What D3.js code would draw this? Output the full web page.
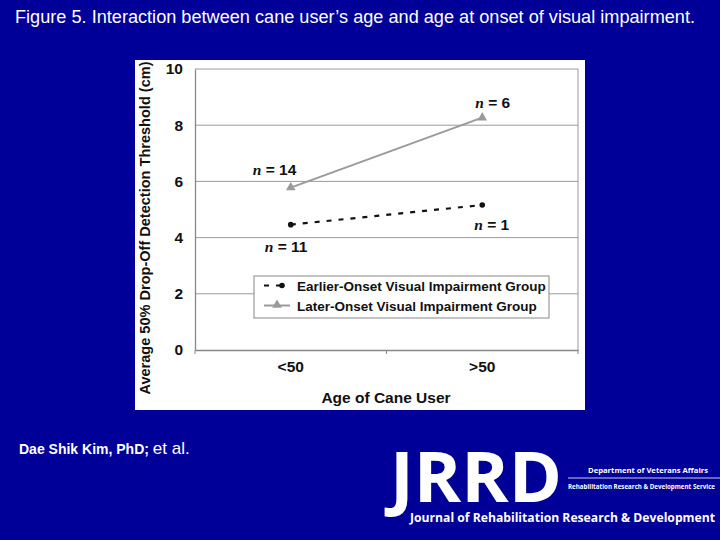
<!DOCTYPE html>
<html><head><meta charset="utf-8">
<script src="https://cdn.jsdelivr.net/npm/d3@7"></script>
<style>body{margin:0;background:#000099;} svg{display:block;}</style>
</head><body>
<script>
const categories = ["<50", ">50"];
const earlierOnset = [4.46, 5.16];
const laterOnset = [5.78, 8.27];
const earlierN = ["11", "1"];
const laterN = ["14", "6"];
const yTicks = [0, 2, 4, 6, 8, 10];
const seriesNames = ["Earlier-Onset Visual Impairment Group", "Later-Onset Visual Impairment Group"];

const W = 720, H = 540;
const svg = d3.select("body").append("svg").attr("width", W).attr("height", H);
svg.append("rect").attr("width", W).attr("height", H).attr("fill", "#000099");

svg.append("text").attr("x", 15).attr("y", 23)
  .attr("fill", "#fff").attr("font-family", "Liberation Sans, Arial, sans-serif")
  .attr("font-size", 17.5).attr("textLength", 680).attr("lengthAdjust", "spacingAndGlyphs")
  .text("Figure 5. Interaction between cane user\u2019s age and age at onset of visual impairment.");

// white panel
svg.append("rect").attr("x", 135).attr("y", 60).attr("width", 450).attr("height", 350).attr("fill", "#fff");

const x = d3.scaleBand().domain(categories).range([195, 578]);
const y = d3.scaleLinear().domain([0, 10]).range([350, 69]);
const font = "Liberation Sans, Arial, sans-serif";

// gridlines
svg.append("g").selectAll("line").data(yTicks.filter(d => d > 0)).join("line")
  .attr("x1", 195).attr("x2", 578).attr("y1", d => y(d)).attr("y2", d => y(d))
  .attr("stroke", "#9a9a9a").attr("stroke-width", 1);
// right border
svg.append("line").attr("x1", 578).attr("x2", 578).attr("y1", y(10)).attr("y2", y(0)).attr("stroke", "#9a9a9a");

// y axis
const yAxis = svg.append("g").attr("transform", "translate(195,0)")
  .call(d3.axisLeft(y).tickValues(yTicks).tickSize(0).tickPadding(12));
yAxis.select(".domain").attr("stroke", "#888").attr("stroke-width", 1.3);
yAxis.selectAll("text").attr("font-family", font).attr("font-size", 15.5).attr("font-weight", "bold").attr("fill", "#111");

// x axis
const xAxis = svg.append("g").attr("transform", "translate(0,350)")
  .call(d3.axisBottom(x).tickSize(0).tickPadding(11));
xAxis.select(".domain").attr("stroke", "#888").attr("stroke-width", 1.3);
xAxis.selectAll("text").attr("font-family", font).attr("font-size", 15.5).attr("font-weight", "bold").attr("fill", "#111");
// small tick marks at band edges
svg.append("g").selectAll("line").data([195, x(categories[1]), 578]).join("line")
  .attr("x1", d => d).attr("x2", d => d).attr("y1", 350).attr("y2", 354).attr("stroke", "#888");

// axis titles
svg.append("text").attr("x", 386).attr("y", 403).attr("text-anchor", "middle")
  .attr("font-family", font).attr("font-size", 15.5).attr("font-weight", "bold").attr("fill", "#111")
  .text("Age of Cane User");
svg.append("text").attr("transform", "translate(150,228) rotate(-90)").attr("text-anchor", "middle")
  .attr("font-family", font).attr("font-size", 15).attr("font-weight", "bold").attr("fill", "#111")
  .attr("textLength", 333).attr("lengthAdjust", "spacingAndGlyphs")
  .text("Average 50% Drop-Off Detection Threshold (cm)");

const cx = d => x(d) + x.bandwidth() / 2;
const lineGen = d3.line().x(d => cx(d[0])).y(d => y(d[1]));

// later onset
const laterData = categories.map((c, i) => [c, laterOnset[i]]);
svg.append("path").datum(laterData).attr("d", lineGen).attr("fill", "none")
  .attr("stroke", "#9a9a9a").attr("stroke-width", 2);
const tri = d3.symbol().type(d3.symbolTriangle).size(40);
svg.append("g").selectAll("path").data(laterData).join("path")
  .attr("d", tri).attr("transform", d => `translate(${cx(d[0])},${y(d[1])})`).attr("fill", "#9a9a9a");

// earlier onset
const earlierData = categories.map((c, i) => [c, earlierOnset[i]]);
svg.append("path").datum(earlierData).attr("d", lineGen).attr("fill", "none")
  .attr("stroke", "#111").attr("stroke-width", 2.2).attr("stroke-dasharray", "5,7");
svg.append("g").selectAll("circle").data(earlierData).join("circle")
  .attr("cx", d => cx(d[0])).attr("cy", d => y(d[1])).attr("r", 2.8).attr("fill", "#111");

// n labels
function nLabel(px, py, val) {
  const t = svg.append("text").attr("x", px).attr("y", py).attr("font-family", font)
    .attr("font-size", 15.5).attr("font-weight", "bold").attr("fill", "#111");
  t.append("tspan").attr("font-family", "Liberation Serif, Times New Roman, serif").attr("font-style", "italic").text("n");
  t.append("tspan").text(" = " + val);
}
nLabel(cx(categories[0]) - 38, y(laterOnset[0]) - 13, laterN[0]);
nLabel(cx(categories[1]) - 7, y(laterOnset[1]) - 10, laterN[1]);
nLabel(cx(categories[0]) - 26, y(earlierOnset[0]) + 27, earlierN[0]);
nLabel(cx(categories[1]) - 8, y(earlierOnset[1]) + 25, earlierN[1]);

// legend
const lg = svg.append("g");
lg.append("rect").attr("x", 254).attr("y", 276).attr("width", 295).attr("height", 42)
  .attr("fill", "#fff").attr("stroke", "#888").attr("stroke-width", 1);
lg.append("line").attr("x1", 264).attr("x2", 286).attr("y1", 285.5).attr("y2", 285.5)
  .attr("stroke", "#111").attr("stroke-width", 2.2).attr("stroke-dasharray", "5,7");
lg.append("circle").attr("cx", 282).attr("cy", 285.5).attr("r", 2.8).attr("fill", "#111");
lg.append("line").attr("x1", 264).attr("x2", 290).attr("y1", 305.5).attr("y2", 305.5)
  .attr("stroke", "#9a9a9a").attr("stroke-width", 2);
lg.append("path").attr("d", tri).attr("transform", "translate(277,305)").attr("fill", "#9a9a9a");
lg.selectAll("text.lt").data(seriesNames).join("text").attr("class", "lt")
  .attr("x", 297).attr("y", (d, i) => 290.5 + i * 20)
  .attr("font-family", font).attr("font-size", 13.5).attr("fill", "#111").attr("font-weight", "600")
  .text(d => d);

// footer
const ft = svg.append("text").attr("x", 19).attr("y", 454).attr("fill", "#fff").attr("font-family", font);
ft.append("tspan").attr("font-size", 14).attr("font-weight", "bold").text("Dae Shik Kim, PhD; ");
ft.append("tspan").attr("font-size", 17).text("et al.");

// logo
svg.append("text").attr("x", 390).attr("y", 502).attr("fill", "#fff").attr("font-family", "Open Sans, sans-serif")
  .attr("font-weight", "bold").attr("font-size", 70).attr("textLength", 172).attr("lengthAdjust", "spacingAndGlyphs").text("JRRD");
svg.append("line").attr("x1", 568).attr("x2", 720).attr("y1", 478).attr("y2", 478).attr("stroke", "#fff").attr("stroke-width", 0.8);
svg.append("text").attr("x", 588).attr("y", 473).attr("fill", "#fff")
  .attr("font-family", "Open Sans, sans-serif").attr("font-weight", "bold").attr("font-size", 7.5)
  .attr("textLength", 120).attr("lengthAdjust", "spacingAndGlyphs")
  .text("Department of Veterans Affairs");
svg.append("text").attr("x", 568).attr("y", 489).attr("fill", "#fff")
  .attr("font-family", "Open Sans, sans-serif").attr("font-weight", "bold").attr("font-size", 6.5)
  .attr("textLength", 147).attr("lengthAdjust", "spacingAndGlyphs")
  .text("Rehabilitation Research & Development Service");
svg.append("text").attr("x", 410).attr("y", 522).attr("fill", "#fff")
  .attr("font-family", "Open Sans, sans-serif").attr("font-weight", "bold").attr("font-size", 12)
  .attr("textLength", 305).attr("lengthAdjust", "spacingAndGlyphs")
  .text("Journal of Rehabilitation Research & Development");
</script>
</body></html>
